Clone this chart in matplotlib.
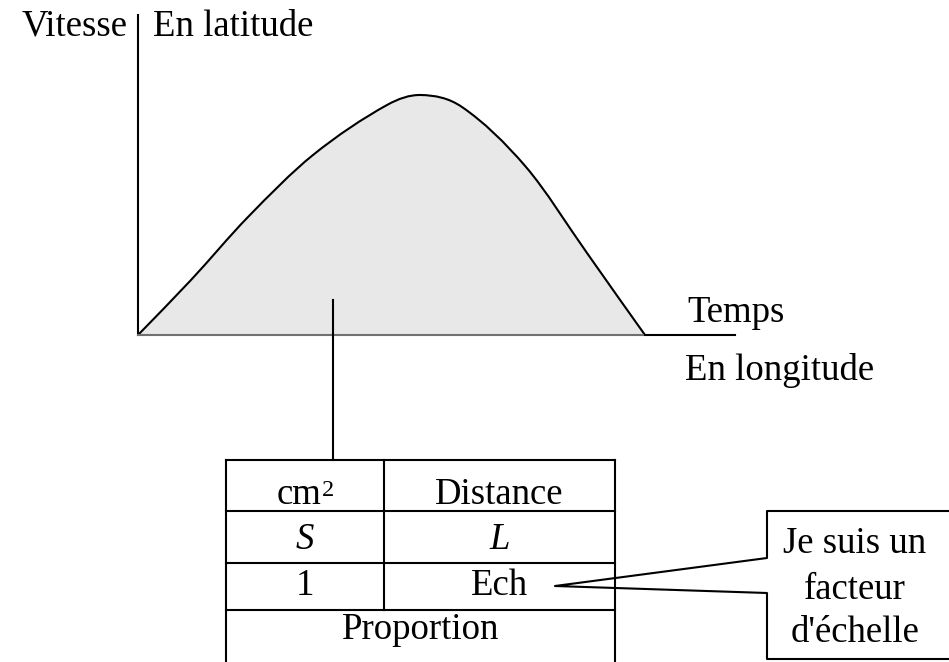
import matplotlib
matplotlib.use("Agg")
import matplotlib.pyplot as plt
from matplotlib.path import Path
from matplotlib.patches import PathPatch

plt.rcParams['font.family'] = ['Liberation Serif', 'DejaVu Serif']

# courbe vitesse / temps (origine au coin des axes)
temps = [0, 53, 110, 175, 249, 283, 324, 388, 449, 480, 507]
vitesse = [0, 55, 118, 180, 230, 240, 228, 168, 82, 38, 0]

# tableau
cellules = [["cm", "Distance"], ["S", "L"], ["1", "Ech"]]
ligne_bas = "Proportion"
bulle = ["Je suis un", "facteur", "d'échelle"]

FS = 26.5
LW = 1.5


def courbe_lisse(xs, ys):
    # Hermite cubique en t (pentes par differences finies) -> Bezier
    n = len(xs)
    m = []
    for i in range(n):
        a = max(i - 1, 0)
        b = min(i + 1, n - 1)
        m.append((ys[b] - ys[a]) / (xs[b] - xs[a]))
    verts = [(xs[0], ys[0])]
    codes = [Path.MOVETO]
    for i in range(n - 1):
        h = xs[i + 1] - xs[i]
        c1 = (xs[i] + h / 3, ys[i] + m[i] * h / 3)
        c2 = (xs[i + 1] - h / 3, ys[i + 1] - m[i + 1] * h / 3)
        verts += [c1, c2, (xs[i + 1], ys[i + 1])]
        codes += [Path.CURVE4] * 3
    return verts, codes


fig = plt.figure(figsize=(9.49, 6.62), dpi=100)
ax = fig.add_axes([0, 0, 1, 1])
ax.set_xlim(-138, 811)
ax.set_ylim(-327, 335)
ax.axis("off")

# aire sous la courbe
verts, codes = courbe_lisse(temps, vitesse)
ax.add_patch(PathPatch(Path(verts + [(temps[0], 0)], codes + [Path.CLOSEPOLY]),
                       facecolor="#e8e8e8", edgecolor="none"))
ax.add_patch(PathPatch(Path(verts, codes), facecolor="none", edgecolor="black", lw=LW))

# axes
ax.plot([0, 0], [0, 320], color="black", lw=LW)
ax.plot([0, temps[-1]], [0, 0], color="#707070", lw=LW)
ax.plot([temps[-1], 597], [0, 0], color="black", lw=LW)

ax.text(-10, 299, "Vitesse", fontsize=FS, ha="right", va="baseline")
ax.text(15, 299, "En latitude", fontsize=FS, ha="left", va="baseline")
ax.text(549, 13, "Temps", fontsize=FS, ha="left", va="baseline")
ax.text(547, -45, "En longitude", fontsize=FS, ha="left", va="baseline")

# trait vers le tableau
ax.plot([195, 195], [35, -125], color="black", lw=LW)

# tableau
xl, xm, xr = 88, 246, 477
rows = [-125, -176, -228, -275]
bases = [-169, -214, -260]
ax.plot([xl, xl], [rows[0], -330], color="black", lw=LW)
ax.plot([xr, xr], [rows[0], -330], color="black", lw=LW)
ax.plot([xm, xm], [rows[0], rows[-1]], color="black", lw=LW)
for r in rows:
    ax.plot([xl, xr], [r, r], color="black", lw=LW)
for i, (a, b) in enumerate(cellules):
    st = "italic" if i == 1 else "normal"
    if i == 0:
        ax.text(184, bases[i], a, fontsize=FS, ha="right", va="baseline")
        ax.text(184, bases[i] + 8, "2", fontsize=FS * 0.66, ha="left", va="baseline")
    else:
        ax.text((xl + xm) / 2, bases[i], a, fontsize=FS, ha="center", va="baseline", style=st)
    ax.text((xm + xr) / 2, bases[i], b, fontsize=FS, ha="center", va="baseline", style=st)
ax.text((xl + xr) / 2, -304, ligne_bas, fontsize=FS, ha="center", va="baseline")

# bulle
bx, btop, bbot = 629, -176, -324
ax.plot([820, bx, bx, 417, bx, bx, 820],
        [btop, btop, -223, -251, -258, bbot, bbot], color="black", lw=LW)
for k, t in enumerate(bulle):
    ax.text(717, [-218, -264, -307][k], t, fontsize=FS, ha="center", va="baseline")

fig.savefig("out.png", dpi=100)
